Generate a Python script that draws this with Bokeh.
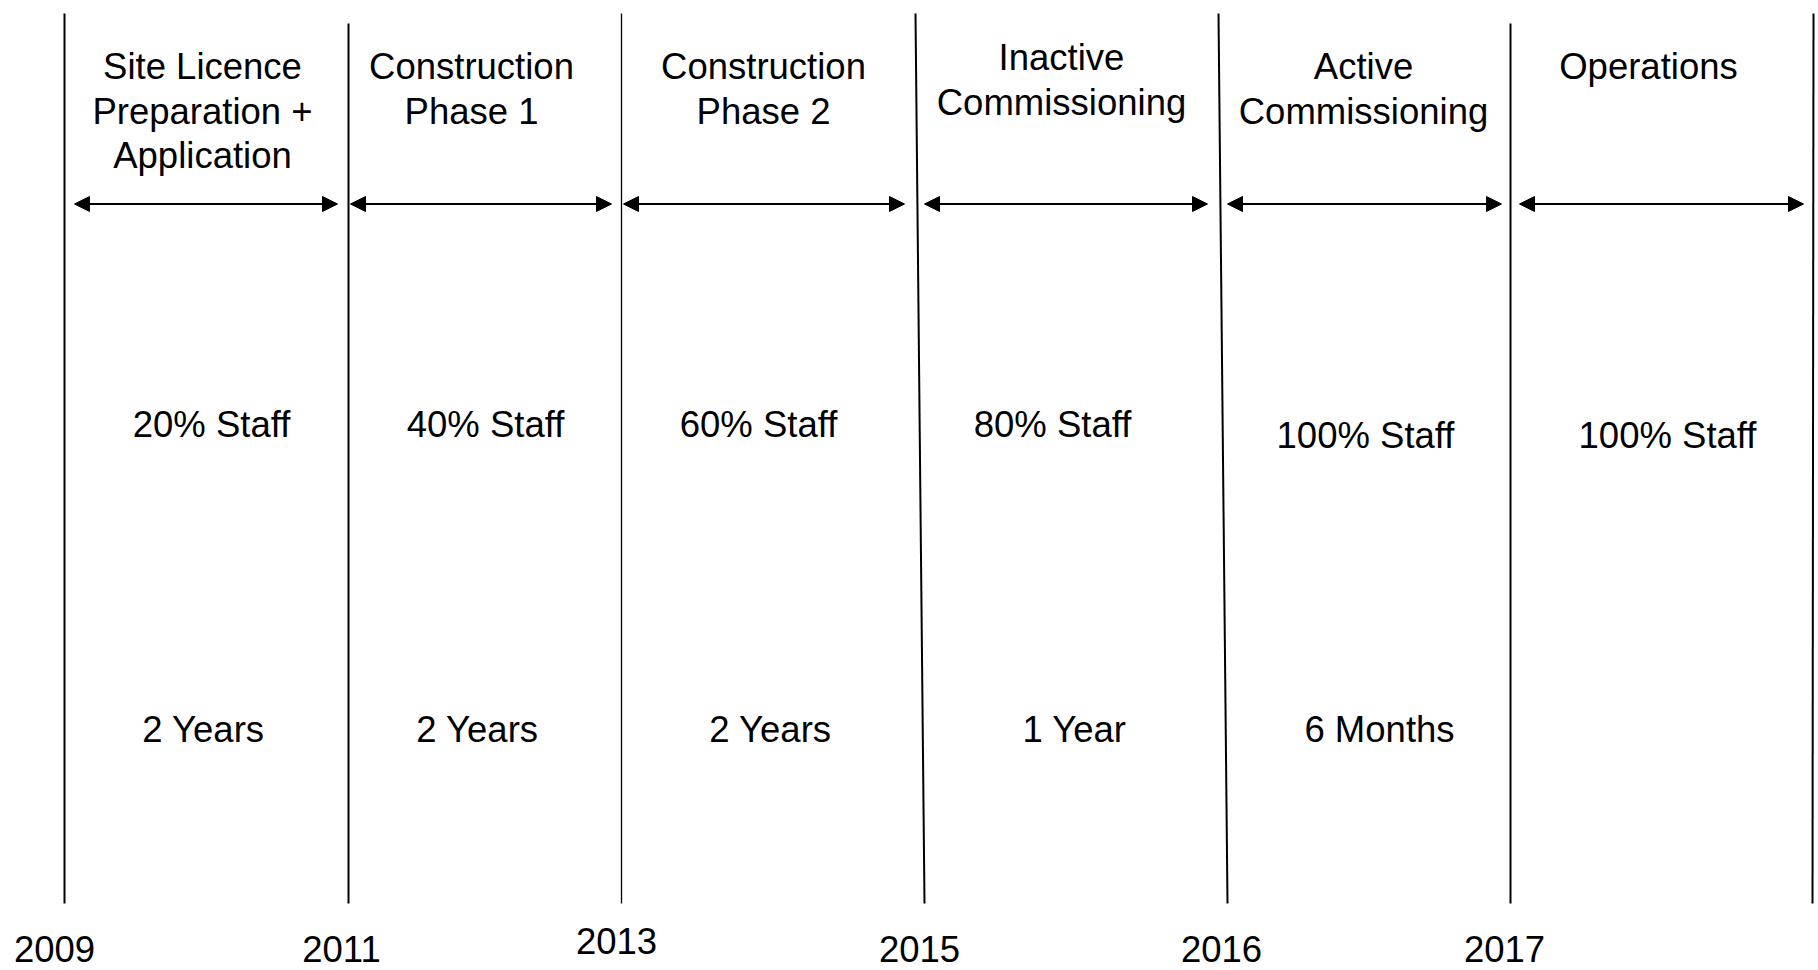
from bokeh.plotting import figure
from bokeh.models import Range1d, ColumnDataSource, Arrow, NormalHead
from bokeh.core.properties import value
from bokeh.embed import file_html
from bokeh.resources import INLINE

# ---- data ----
years = ["2009", "2011", "2013", "2015", "2016", "2017"]
phases = ["Site Licence\nPreparation +\nApplication", "Construction\nPhase 1",
          "Construction\nPhase 2", "Inactive\nCommissioning",
          "Active\nCommissioning", "Operations"]
staff_pct = [20, 40, 60, 80, 100, 100]
durations = ["2 Years", "2 Years", "2 Years", "1 Year", "6 Months"]

# ---- layout (pixel positions) ----
W, H = 1818, 970
bound_top_x = [64, 348, 621, 915, 1218, 1510, 1813]
bound_bot_x = [64, 348, 621, 924, 1227, 1510, 1812]
bound_top_y = [13, 23, 13, 13, 13, 23, 13]
bound_bot_y = [903] * 7
bound_w = [2, 2, 1.3, 2, 2, 2, 2]

arrow_x0 = [74, 350, 623, 924, 1227, 1519]
arrow_x1 = [337, 611, 904, 1207, 1501, 1803]
arrow_y = 203.5

title_x = [202, 471, 763, 1061, 1363, 1648]
title_y0 = [66, 66, 66, 57, 66, 66]
title_lh = 44.5

staff_x = [211, 485, 758, 1052, 1365, 1667]
staff_y = [424, 424, 424, 424, 435, 435]

dur_x = [203, 477, 770, 1074, 1379]
dur_y = 729

year_x = [54, 341, 616, 919, 1221, 1504]
year_y = [948, 948, 940, 948, 948, 948]

FONT = value("Liberation Sans")
FS = "36.5px"

p = figure(width=W, height=H, output_backend="svg", toolbar_location=None,
           x_range=Range1d(0, W), y_range=Range1d(H, 0),
           x_axis_location=None, y_axis_location=None, min_border=0,
           outline_line_color=None, background_fill_color="white",
           border_fill_color="white")
p.grid.visible = False

# boundaries
p.segment(x0=bound_top_x, y0=bound_top_y, x1=bound_bot_x, y1=bound_bot_y,
          line_color="black", line_width=bound_w)

# arrows
asrc = ColumnDataSource(dict(x0=arrow_x0, x1=arrow_x1,
                             y=[arrow_y] * len(arrow_x0)))
p.add_layout(Arrow(source=asrc, x_start="x0", y_start="y", x_end="x1", y_end="y",
                   line_color="black", line_width=2,
                   start=NormalHead(size=15, fill_color="black", line_color="black", line_width=1),
                   end=NormalHead(size=15, fill_color="black", line_color="black", line_width=1)))

# phase titles (split into lines)
tx, ty, tt = [], [], []
for i, ph in enumerate(phases):
    for j, line in enumerate(ph.split("\n")):
        tx.append(title_x[i])
        ty.append(title_y0[i] + j * title_lh)
        tt.append(line)
p.text(x=tx, y=ty, text=tt, text_font=FONT, text_font_size=FS,
       text_align="center", text_baseline="alphabetic", text_color="black")

# staff
p.text(x=staff_x, y=staff_y, text=[f"{s}% Staff" for s in staff_pct],
       text_font=FONT, text_font_size=FS, text_align="center",
       text_baseline="alphabetic", text_color="black")

# durations
p.text(x=dur_x, y=[dur_y] * len(durations), text=durations,
       text_font=FONT, text_font_size=FS, text_align="center",
       text_baseline="alphabetic", text_color="black")

# years
p.text(x=year_x, y=year_y, text=years, text_font=FONT, text_font_size=FS,
       text_align="center", text_baseline="alphabetic", text_color="black")

open("out.html", "w").write(file_html(p, INLINE))
